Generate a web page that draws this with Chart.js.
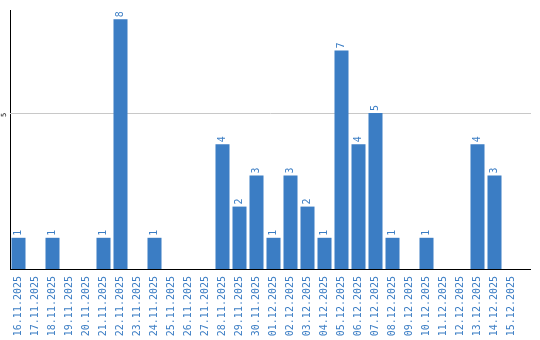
<!DOCTYPE html>
<html>
<head>
<meta charset="utf-8">
<script src="https://cdn.jsdelivr.net/npm/chart.js@4/dist/chart.umd.min.js"></script>
<style>
html,body{margin:0;padding:0;background:#fff;}
#wrap{width:540px;height:340px;}
</style>
</head>
<body>
<div id="wrap"><canvas id="c" width="540" height="340"></canvas></div>
<script>
const categories = ["16.11.2025","17.11.2025","18.11.2025","19.11.2025","20.11.2025","21.11.2025","22.11.2025","23.11.2025","24.11.2025","25.11.2025","26.11.2025","27.11.2025","28.11.2025","29.11.2025","30.11.2025","01.12.2025","02.12.2025","03.12.2025","04.12.2025","05.12.2025","06.12.2025","07.12.2025","08.12.2025","09.12.2025","10.12.2025","11.12.2025","12.12.2025","13.12.2025","14.12.2025","15.12.2025"];
const values = [1,0,1,0,0,1,8,0,1,0,0,0,4,2,3,1,3,2,1,7,4,5,1,0,1,0,0,4,3,0];
const yTicks = [5];

const BLUE = '#3b7dc4';
const MONO = "'DejaVu Sans Mono', 'Liberation Mono', monospace";
const AXIS_END = 531;

const extras = {
  id: 'extras',
  beforeDatasetsDraw(chart) {
    const ctx = chart.ctx;
    const ys = chart.scales.y;
    const area = chart.chartArea;
    ctx.save();
    ctx.strokeStyle = '#c8c8c8';
    ctx.lineWidth = 1;
    yTicks.forEach(t => {
      const y = Math.round(ys.getPixelForValue(t)) + 0.5;
      ctx.beginPath();
      ctx.moveTo(area.left, y);
      ctx.lineTo(AXIS_END, y);
      ctx.stroke();
    });
    ctx.restore();
  },
  afterDatasetsDraw(chart) {
    const ctx = chart.ctx;
    const meta = chart.getDatasetMeta(0);
    const ys = chart.scales.y;
    const area = chart.chartArea;
    ctx.save();
    // value labels
    ctx.font = '10px ' + MONO;
    ctx.fillStyle = BLUE;
    ctx.textAlign = 'left';
    ctx.textBaseline = 'middle';
    meta.data.forEach((bar, i) => {
      const v = values[i];
      if (!v) return;
      ctx.save();
      ctx.translate(bar.x, bar.y - 2);
      ctx.rotate(-Math.PI / 2);
      ctx.fillText(String(v), 0, 0);
      ctx.restore();
    });
    // y tick labels, rotated
    ctx.font = '7px ' + MONO;
    ctx.fillStyle = '#000';
    ctx.textAlign = 'center';
    ctx.textBaseline = 'middle';
    yTicks.forEach(t => {
      const y = ys.getPixelForValue(t);
      ctx.save();
      ctx.translate(4, y + 2);
      ctx.rotate(-Math.PI / 2);
      ctx.fillText(String(t), 0, 0);
      ctx.restore();
    });
    // bottom axis line extension
    ctx.strokeStyle = '#000';
    ctx.lineWidth = 1;
    ctx.beginPath();
    ctx.moveTo(area.left, Math.round(area.bottom) + 0.5);
    ctx.lineTo(AXIS_END, Math.round(area.bottom) + 0.5);
    ctx.stroke();
    ctx.restore();
  }
};

new Chart(document.getElementById('c'), {
  type: 'bar',
  data: {
    labels: categories,
    datasets: [{
      data: values,
      backgroundColor: BLUE,
      borderWidth: 0,
      categoryPercentage: 1,
      barPercentage: 0.824
    }]
  },
  options: {
    responsive: false,
    devicePixelRatio: 1,
    animation: false,
    layout: { padding: { top: 10, right: 20, left: 0, bottom: 0 } },
    plugins: { legend: { display: false }, tooltip: { enabled: false } },
    scales: {
      x: {
        grid: { display: false, drawTicks: false },
        border: { display: true, color: '#000', width: 1 },
        ticks: {
          autoSkip: false,
          minRotation: 90,
          maxRotation: 90,
          padding: 7,
          color: BLUE,
          font: { family: MONO, size: 10 }
        },
        afterFit(s) { s.height = 71; }
      },
      y: {
        min: 0,
        max: 8.3,
        afterBuildTicks(s) { s.ticks = yTicks.map(v => ({ value: v })); },
        afterFit(s) { s.width = 10; },
        ticks: { display: false },
        grid: { display: false, drawTicks: false },
        border: { display: true, color: '#000', width: 1 }
      }
    }
  },
  plugins: [extras]
});
</script>
</body>
</html>
